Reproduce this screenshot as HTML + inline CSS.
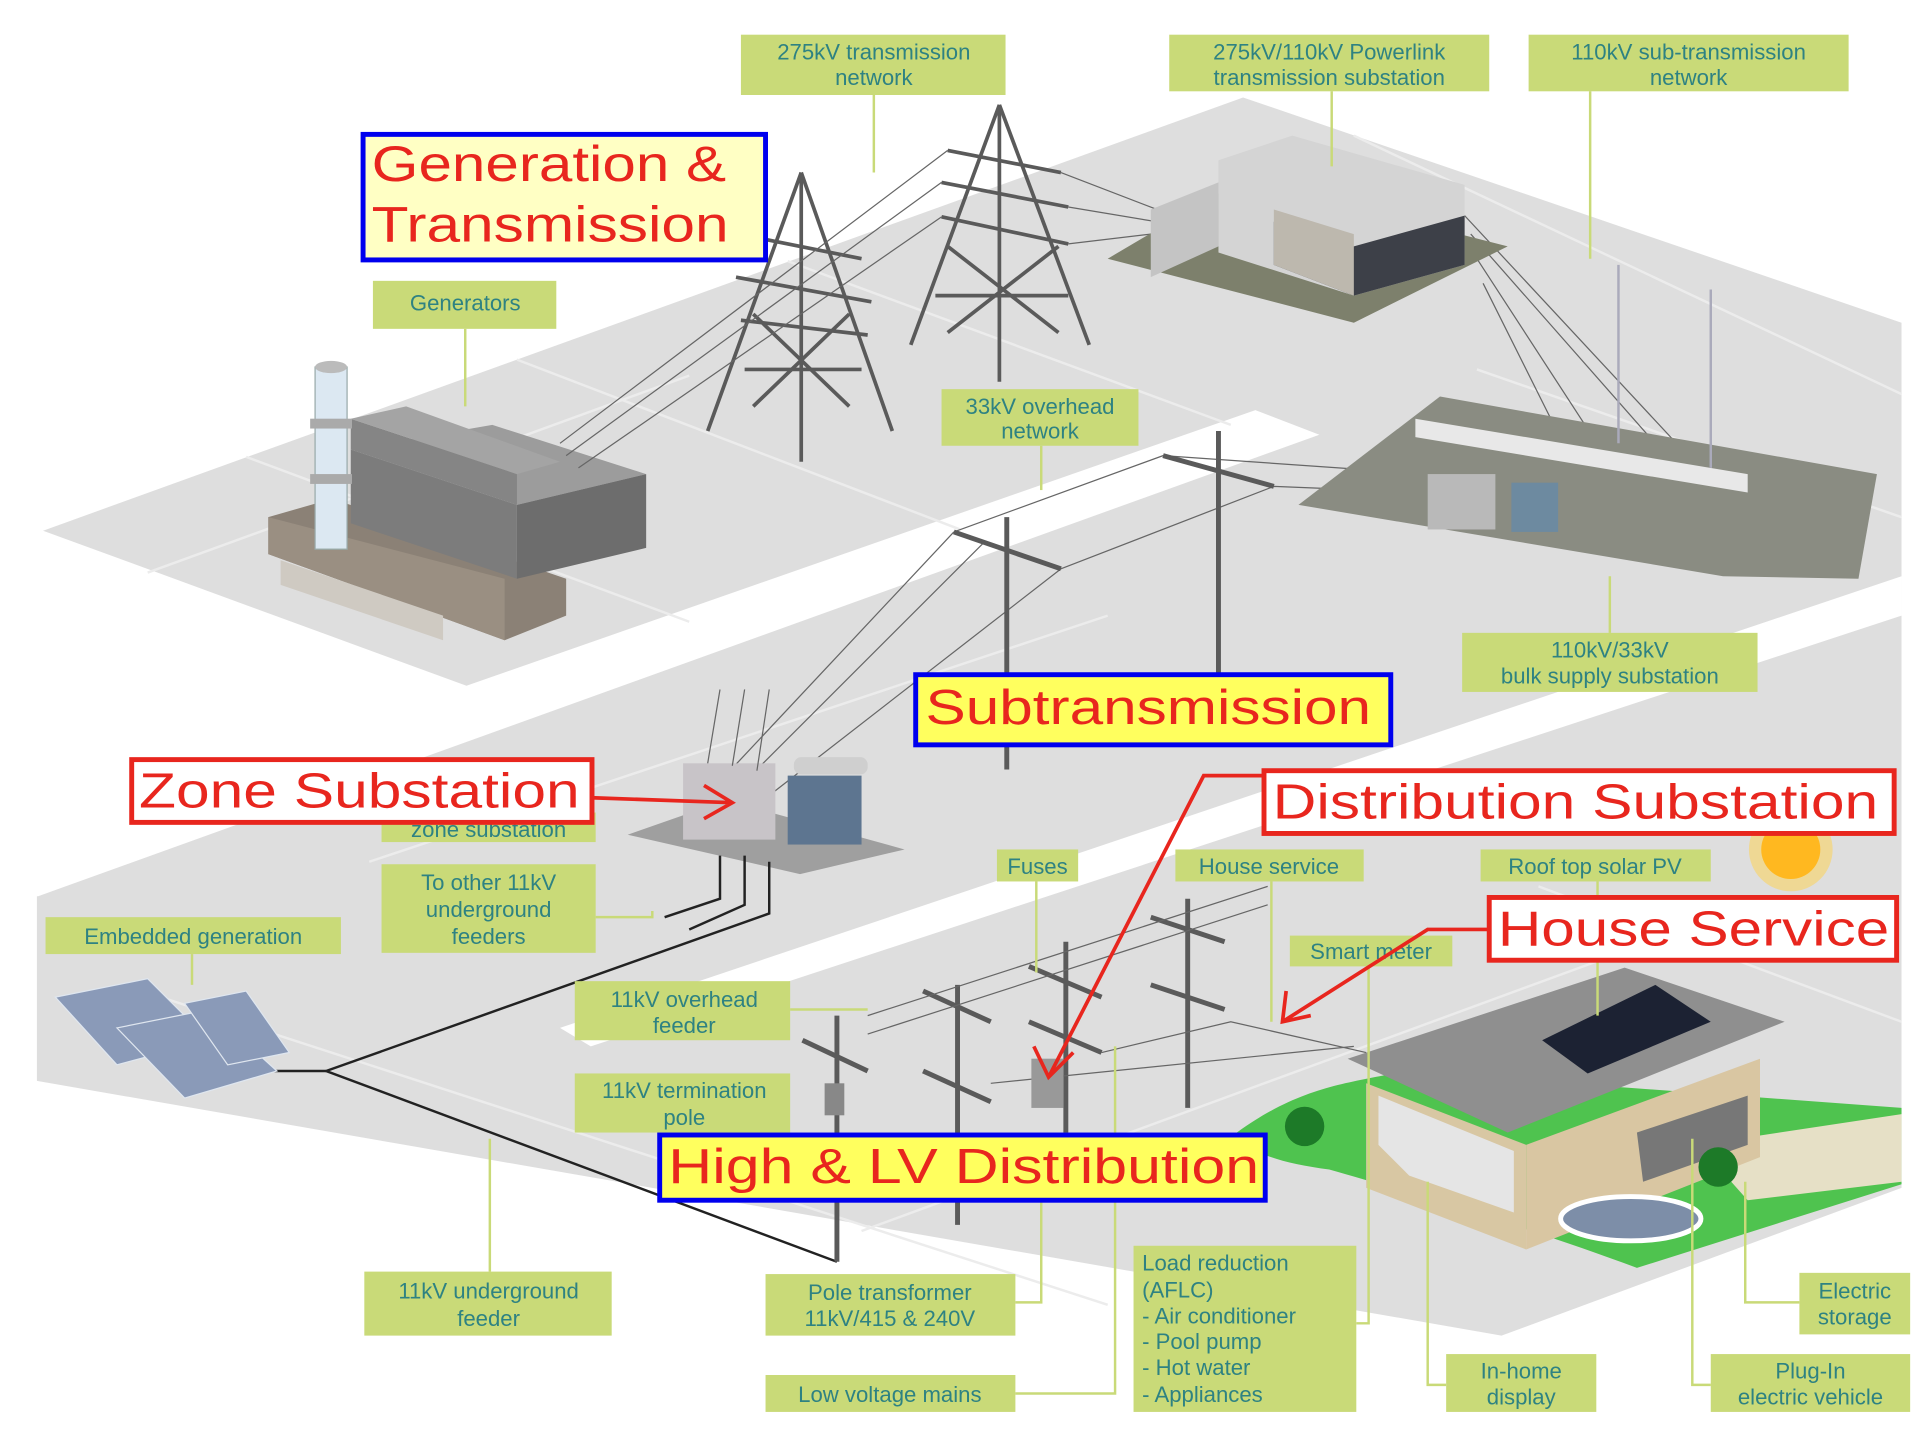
<!DOCTYPE html>
<html><head><meta charset="utf-8"><style>
html,body{margin:0;padding:0;background:#fff;}
svg{display:block;}
.lb{fill:#c9da78;}
.lt{font-family:"Liberation Sans Narrow","Liberation Sans",sans-serif;font-size:18px;fill:#2e8282;text-anchor:middle;}
.ll{stroke:#c9da78;stroke-width:2;fill:none;}
.big{font-family:"Liberation Sans",sans-serif;fill:#e8261e;}
.w{stroke:#666;stroke-width:1;fill:none;}
.tw{stroke:#5a5a5a;stroke-width:3;fill:none;}
</style></head><body>
<svg width="1920" height="1438" viewBox="0 0 1560 1168" xmlns="http://www.w3.org/2000/svg">
<rect width="1560" height="1168" fill="#fff"/>
<!-- ground -->
<polygon points="35,431 1010,79 1545,262 1545,965 1220,1085 30,878 30,700" fill="#dedede"/>
<polygon points="0,431 35,431 379,557 1020,333 1072,353 31,728 0,728" fill="#fff"/>
<polygon points="1545,468 1545,500 480,850 455,835" fill="#fff"/>
<!-- grid lines -->
<g stroke="#ececec" stroke-width="2">
<line x1="200" y1="371" x2="560" y2="505"/><line x1="420" y1="292" x2="780" y2="430"/>
<line x1="640" y1="212" x2="1000" y2="345"/><line x1="120" y1="465" x2="560" y2="305"/>
<line x1="1100" y1="110" x2="1545" y2="320"/><line x1="1200" y1="300" x2="1545" y2="420"/>
<line x1="100" y1="800" x2="900" y2="1060"/><line x1="300" y1="700" x2="900" y2="500"/>
<line x1="700" y1="1000" x2="1300" y2="780"/><line x1="1250" y1="720" x2="1545" y2="830"/>
</g>
<!-- generator building -->
<polygon points="218,450 410,520 460,500 460,470 270,405 218,420" fill="#8b8176"/>
<polygon points="218,450 410,520 410,470 218,420" fill="#9a8f82"/>
<polygon points="228,455 360,500 360,520 228,475" fill="#cfcac2"/>
<polygon points="285,365 420,410 420,470 285,425" fill="#7c7c7c"/>
<polygon points="285,365 420,410 525,385 400,345" fill="#9c9c9c"/>
<polygon points="420,410 525,385 525,445 420,470" fill="#6d6d6d"/>
<polygon points="285,340 420,385 420,410 285,365" fill="#858585"/>
<polygon points="285,340 420,385 455,375 330,330" fill="#a4a4a4"/>
<rect x="256" y="298" width="26" height="148" fill="#dce8f2" stroke="#9aa" />
<rect x="252" y="340" width="34" height="8" fill="#aaa"/><rect x="252" y="385" width="34" height="8" fill="#aaa"/>
<ellipse cx="269" cy="298" rx="13" ry="5" fill="#bbb"/>
<!-- towers -->
<g class="tw">
<line x1="651" y1="140" x2="575" y2="350"/><line x1="651" y1="140" x2="725" y2="350"/><line x1="651" y1="140" x2="651" y2="375"/>
<line x1="600" y1="190" x2="700" y2="210"/><line x1="598" y1="225" x2="708" y2="245"/><line x1="602" y1="260" x2="705" y2="272"/>
<line x1="612" y1="255" x2="690" y2="330"/><line x1="690" y1="255" x2="612" y2="330"/><line x1="605" y1="300" x2="700" y2="300"/>
<line x1="812" y1="85" x2="740" y2="280"/><line x1="812" y1="85" x2="885" y2="280"/><line x1="812" y1="85" x2="812" y2="310"/>
<line x1="770" y1="122" x2="862" y2="140"/><line x1="765" y1="148" x2="868" y2="168"/><line x1="765" y1="176" x2="868" y2="198"/>
<line x1="770" y1="200" x2="860" y2="270"/><line x1="860" y1="200" x2="770" y2="270"/><line x1="760" y1="240" x2="868" y2="240"/>
</g>
<g class="w">
<path d="M455,360 L770,122 M460,370 L765,148 M470,380 L765,176"/>
<path d="M862,140 L940,170 M868,168 L940,180 M868,198 L935,190"/>
<path d="M1190,175 L1390,390 M1195,190 L1380,400 M1200,210 L1330,410 M1205,230 L1300,420"/>
<path d="M775,432 L580,640 M800,440 L600,640 M862,462 L620,650"/>
<path d="M945,370 L1160,385 M1035,395 L1160,400 M862,462 L1035,395 M775,432 L945,370"/>
</g>
<!-- transmission substation -->
<polygon points="900,210 1010,145 1225,200 1100,262" fill="#7d806c"/>
<polygon points="935,170 990,148 990,200 935,225" fill="#c4c4c4"/>
<polygon points="990,130 1050,110 1190,150 1190,215 1100,240 990,205" fill="#d4d4d4"/>
<polygon points="1035,180 1100,200 1190,175 1190,215 1100,240 1035,215" fill="#3d4048"/>
<polygon points="1035,170 1100,190 1100,240 1035,215" fill="#bdb8ae"/>
<!-- bulk supply substation -->
<polygon points="1055,410 1170,322 1525,385 1510,470 1400,468" fill="#8a8c82"/>
<polygon points="1150,340 1420,385 1420,400 1150,355" fill="#e8e8e8"/>
<line x1="1315" y1="215" x2="1315" y2="360" stroke="#aab" stroke-width="2"/>
<line x1="1390" y1="235" x2="1390" y2="380" stroke="#aab" stroke-width="2"/>
<rect x="1160" y="385" width="55" height="45" fill="#b9b9b9"/>
<rect x="1228" y="392" width="38" height="40" fill="#6d8aa0"/>
<!-- 33kV poles -->
<g stroke="#5a5a5a" stroke-width="4">
<line x1="818" y1="420" x2="818" y2="625"/><line x1="775" y1="432" x2="862" y2="462"/>
<line x1="990" y1="350" x2="990" y2="548"/><line x1="945" y1="370" x2="1035" y2="395"/>
</g>
<!-- zone substation -->
<polygon points="510,678 590,650 735,690 650,710" fill="#9f9f9f"/>
<rect x="555" y="620" width="75" height="62" fill="#c8c4c8"/>
<rect x="640" y="630" width="60" height="56" fill="#5d7590"/>
<rect x="645" y="615" width="60" height="14" rx="6" fill="#cfcfcf"/>
<path d="M575,620 L585,560 M595,622 L605,560 M615,626 L625,560" class="w"/>
<!-- feeders -->
<g stroke="#222" stroke-width="2" fill="none">
<path d="M585,695 L585,730 L540,745"/><path d="M605,695 L605,735 L560,755"/>
<path d="M625,700 L625,742 L265,870 L680,1025"/>
<path d="M265,870 L210,870"/>
</g>
<path d="M210,866 L202,870 L210,874Z" fill="#222"/>
<!-- solar panels -->
<g fill="#8a9ab8" stroke="#dfe6ef" stroke-width="1">
<polygon points="45,810 120,795 170,845 95,865"/>
<polygon points="95,835 170,820 225,870 150,892"/>
<polygon points="150,815 200,805 235,855 185,865"/>
</g>
<!-- distribution poles -->
<g stroke="#5a5a5a" stroke-width="4">
<line x1="680" y1="825" x2="680" y2="1025"/><line x1="652" y1="845" x2="705" y2="870"/>
<line x1="778" y1="800" x2="778" y2="995"/><line x1="750" y1="805" x2="805" y2="830"/><line x1="750" y1="870" x2="805" y2="895"/>
<line x1="866" y1="765" x2="866" y2="920"/><line x1="836" y1="785" x2="895" y2="810"/><line x1="836" y1="830" x2="895" y2="855"/>
<line x1="965" y1="730" x2="965" y2="900"/><line x1="935" y1="745" x2="995" y2="765"/><line x1="935" y1="800" x2="995" y2="820"/>
</g>
<g class="w"><path d="M705,825 L1030,720 M705,840 L1030,735 M805,880 L1100,850 M895,855 L1000,830 L1110,855"/></g>
<rect x="670" y="880" width="16" height="26" fill="#888"/>
<rect x="838" y="860" width="26" height="40" fill="#999"/>
<!-- house & lawn -->
<path d="M1005,920 C1060,880 1100,880 1140,870 L1545,900 L1545,962 L1330,1030 C1250,1000 1150,970 1080,950 C1040,945 1010,935 1005,920Z" fill="#4fc34f"/>
<polygon points="1380,930 1545,905 1545,960 1420,975" fill="#e6e0c6"/>
<polygon points="1110,880 1240,930 1240,1015 1110,965" fill="#d8c7a3"/>
<polygon points="1240,930 1430,860 1430,940 1240,1015" fill="#d9c6a2"/>
<polygon points="1120,890 1230,935 1230,985 1145,955 1120,930" fill="#e5e5e5"/>
<polygon points="1330,920 1420,890 1420,930 1335,960" fill="#777"/>
<polygon points="1095,860 1320,786 1450,830 1225,920" fill="#8f8f8f"/>
<polygon points="1253,845 1345,800 1390,830 1290,872" fill="#1c2233"/>
<ellipse cx="1325" cy="990" rx="57" ry="18" fill="#7d8ea8" stroke="#fff" stroke-width="4"/>
<circle cx="1060" cy="915" r="16" fill="#1d7a28"/><circle cx="1396" cy="948" r="16" fill="#1d7a28"/>
<!-- sun -->
<circle cx="1455" cy="690" r="34" fill="#ffd24a" opacity=".5"/>
<circle cx="1455" cy="690" r="24" fill="#ffb820"/>
<!-- leader lines -->
<g class="ll">
<path d="M710,77 V140"/><path d="M1082,74 V135"/><path d="M1292,74 V210"/><path d="M378,267 V330"/>
<path d="M846,362 V398"/><path d="M1308,468 V514"/><path d="M484,745 H530 V740"/>
<path d="M156,775 V800"/><path d="M842,716 V790"/><path d="M1033,716 V830"/><path d="M1298,716 V730"/><path d="M1298,780 V825"/>
<path d="M1112,785 V1075 H1102"/><path d="M642,820 H705"/><path d="M398,925 V1033"/>
<path d="M825,1058 H846 V960"/><path d="M825,1132 H906 V850"/>
<path d="M1160,960 V1125 H1175"/><path d="M1418,960 V1058 H1462"/><path d="M1375,925 V1125 H1390"/>
</g>
<!-- green labels -->
<g>
<rect class="lb" x="602" y="28" width="215" height="49"/><text class="lt" x="710" y="48">275kV transmission</text><text class="lt" x="710" y="69">network</text>
<rect class="lb" x="950" y="28" width="260" height="46"/><text class="lt" x="1080" y="48">275kV/110kV Powerlink</text><text class="lt" x="1080" y="69">transmission substation</text>
<rect class="lb" x="1242" y="28" width="260" height="46"/><text class="lt" x="1372" y="48">110kV sub-transmission</text><text class="lt" x="1372" y="69">network</text>
<rect class="lb" x="303" y="228" width="149" height="39"/><text class="lt" x="378" y="252">Generators</text>
<rect class="lb" x="765" y="316" width="160" height="46"/><text class="lt" x="845" y="336">33kV overhead</text><text class="lt" x="845" y="356">network</text>
<rect class="lb" x="1188" y="514" width="240" height="48"/><text class="lt" x="1308" y="534">110kV/33kV</text><text class="lt" x="1308" y="555">bulk supply substation</text>
<rect class="lb" x="310" y="660" width="174" height="24"/><text class="lt" x="397" y="680">zone substation</text>
<rect class="lb" x="310" y="702" width="174" height="72"/><text class="lt" x="397" y="723">To other 11kV</text><text class="lt" x="397" y="745">underground</text><text class="lt" x="397" y="767">feeders</text>
<rect class="lb" x="37" y="745" width="240" height="30"/><text class="lt" x="157" y="767">Embedded generation</text>
<rect class="lb" x="810" y="690" width="66" height="26"/><text class="lt" x="843" y="710">Fuses</text>
<rect class="lb" x="955" y="690" width="153" height="26"/><text class="lt" x="1031" y="710">House service</text>
<rect class="lb" x="1203" y="690" width="187" height="26"/><text class="lt" x="1296" y="710">Roof top solar PV</text>
<rect class="lb" x="1048" y="760" width="132" height="25"/><text class="lt" x="1114" y="779">Smart meter</text>
<rect class="lb" x="467" y="797" width="175" height="48"/><text class="lt" x="556" y="818">11kV overhead</text><text class="lt" x="556" y="839">feeder</text>
<rect class="lb" x="467" y="872" width="175" height="48"/><text class="lt" x="556" y="892">11kV termination</text><text class="lt" x="556" y="914">pole</text>
<rect class="lb" x="296" y="1033" width="201" height="52"/><text class="lt" x="397" y="1055">11kV underground</text><text class="lt" x="397" y="1077">feeder</text>
<rect class="lb" x="622" y="1035" width="203" height="50"/><text class="lt" x="723" y="1056">Pole transformer</text><text class="lt" x="723" y="1077">11kV/415 &amp; 240V</text>
<rect class="lb" x="622" y="1117" width="203" height="30"/><text class="lt" x="723" y="1139">Low voltage mains</text>
<rect class="lb" x="921" y="1012" width="181" height="135"/>
<g class="lt" style="text-anchor:start"><text x="928" y="1032">Load reduction</text><text x="928" y="1054">(AFLC)</text><text x="928" y="1075">- Air conditioner</text><text x="928" y="1096">- Pool pump</text><text x="928" y="1117">- Hot water</text><text x="928" y="1139">- Appliances</text></g>
<rect class="lb" x="1175" y="1100" width="122" height="47"/><text class="lt" x="1236" y="1120">In-home</text><text class="lt" x="1236" y="1141">display</text>
<rect class="lb" x="1462" y="1034" width="90" height="50"/><text class="lt" x="1507" y="1055">Electric</text><text class="lt" x="1507" y="1076">storage</text>
<rect class="lb" x="1390" y="1100" width="162" height="47"/><text class="lt" x="1471" y="1120">Plug-In</text><text class="lt" x="1471" y="1141">electric vehicle</text>
</g>
<!-- big labels -->
<rect x="295" y="109" width="327" height="102" fill="#ffffc4" stroke="#0000ee" stroke-width="4"/>
<text class="big" x="302" y="147" font-size="41" textLength="288" lengthAdjust="spacingAndGlyphs">Generation &amp;</text>
<text class="big" x="302" y="196" font-size="41" textLength="290" lengthAdjust="spacingAndGlyphs">Transmission</text>
<rect x="744" y="548" width="386" height="57" fill="#ffff5e" stroke="#0000ee" stroke-width="4"/>
<text class="big" x="752" y="588" font-size="40" textLength="362" lengthAdjust="spacingAndGlyphs">Subtransmission</text>
<rect x="107" y="617" width="374" height="51" fill="#fff" stroke="#e8261e" stroke-width="4"/>
<text class="big" x="113" y="656" font-size="40" textLength="358" lengthAdjust="spacingAndGlyphs">Zone Substation</text>
<rect x="1027" y="626" width="512" height="51" fill="#fff" stroke="#e8261e" stroke-width="4"/>
<text class="big" x="1034" y="665" font-size="40" textLength="492" lengthAdjust="spacingAndGlyphs">Distribution Substation</text>
<rect x="1210" y="729" width="331" height="51" fill="#fff" stroke="#e8261e" stroke-width="4"/>
<text class="big" x="1217" y="768" font-size="40" textLength="318" lengthAdjust="spacingAndGlyphs">House Service</text>
<rect x="536" y="922" width="492" height="53" fill="#ffff5e" stroke="#0000ee" stroke-width="4"/>
<text class="big" x="543" y="961" font-size="40" textLength="480" lengthAdjust="spacingAndGlyphs">High &amp; LV Distribution</text>
<!-- red arrows -->
<g stroke="#e8261e" stroke-width="3" fill="none">
<path d="M481,648 L595,652 M572,638 L595,652 L572,665"/>
<path d="M1027,630 L978,630 L852,875 M840,850 L852,875 L872,855"/>
<path d="M1210,755 L1160,755 L1042,830 M1045,805 L1042,830 L1065,825"/>
</g>
</svg>
</body></html>
